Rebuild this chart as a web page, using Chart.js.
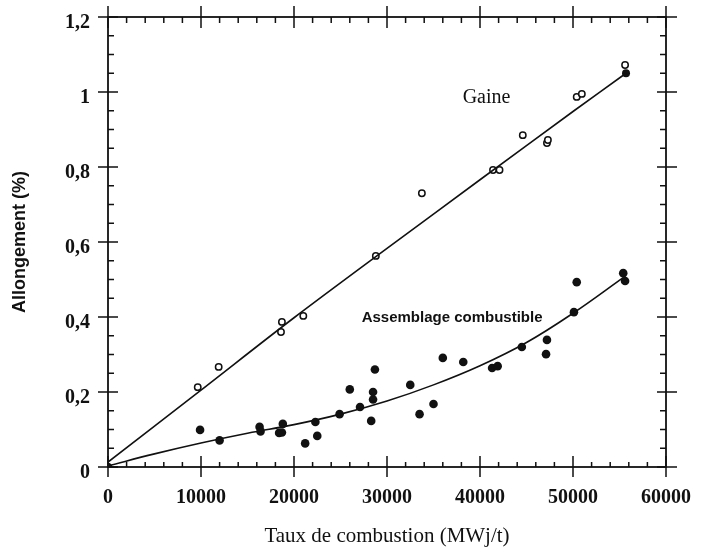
<!DOCTYPE html>
<html><head><meta charset="utf-8">
<script src="https://cdn.jsdelivr.net/npm/chart.js@4.4.1/dist/chart.umd.min.js"></script>
<style>html,body{margin:0;padding:0;background:#fff}</style>
</head><body>
<canvas id="c" width="701" height="548" style="width:701px;height:548px;display:block"></canvas>
<script>
// ---- data ----
const xTicks = [0, 10000, 20000, 30000, 40000, 50000, 60000];
const xTickLabels = ['0', '10000', '20000', '30000', '40000', '50000', '60000'];
const yTicks = [0, 0.2, 0.4, 0.6, 0.8, 1, 1.2];
const yTickLabels = ['0', '0,2', '0,4', '0,6', '0,8', '1', '1,2'];

// Gaine (open circles)
const gaineX = [9650, 11900, 18600, 18700, 21000, 28800, 33750, 41400, 42100, 44600, 47200, 47300, 50400, 50950, 55600];
const gaineY = [0.213, 0.267, 0.36, 0.387, 0.403, 0.563, 0.73, 0.792, 0.792, 0.885, 0.864, 0.872, 0.987, 0.995, 1.072];
// filled point at end of the Gaine line
const gaineFilledX = [55700];
const gaineFilledY = [1.05];
// Gaine fitted line
const gaineFitX = [0, 10000, 20000, 30000, 40000, 50000, 55700];
const gaineFitY = [0.013, 0.205, 0.398, 0.583, 0.766, 0.948, 1.05];

// Assemblage combustible (filled circles)
const assX = [0, 9900, 12000, 16300, 16400, 18400, 18700, 18800, 21200, 22300, 22500, 24900, 26000, 27100, 28300, 28500, 28500, 28700,
  32500, 33500, 35000, 36000, 38200, 41300, 41900, 44500, 47100, 47200, 50100, 50400, 55400, 55600];
const assY = [0, 0.099, 0.071, 0.107, 0.095, 0.091, 0.092, 0.115, 0.063, 0.12, 0.083, 0.141, 0.207, 0.16, 0.123, 0.18, 0.2, 0.26,
  0.219, 0.141, 0.168, 0.291, 0.28, 0.264, 0.269, 0.32, 0.301, 0.339, 0.413, 0.493, 0.517, 0.496];
// Assemblage fitted curve
const assFitX = [0, 5000, 10000, 15000, 20000, 25000, 30000, 35000, 40000, 45000, 50000, 55400];
const assFitY = [0.003, 0.035, 0.064, 0.09, 0.113, 0.141, 0.176, 0.219, 0.27, 0.332, 0.41, 0.505];

// annotation labels
const labelTexts = ['Gaine', 'Assemblage combustible'];
const labelX = [40700, 37000];
const labelY = [0.984, 0.397];

const zip = (xs, ys) => xs.map((x, i) => ({ x: x, y: ys[i] }));
const INK = '#111';

const framePlugin = {
  id: 'frame',
  afterDatasetsDraw(chart) {
    const { ctx, chartArea: a, scales: { x, y } } = chart;
    ctx.save();
    ctx.strokeStyle = INK;
    ctx.lineWidth = 1.8;
    ctx.strokeRect(a.left, a.top, a.right - a.left, a.bottom - a.top);
    ctx.lineWidth = 1.5;
    ctx.beginPath();
    // minor x ticks every 2000
    for (let v = x.min; v <= x.max + 1; v += 2000) {
      const px = x.getPixelForValue(v);
      ctx.moveTo(px, a.bottom); ctx.lineTo(px, a.bottom - 5);
      ctx.moveTo(px, a.top); ctx.lineTo(px, a.top + 6);
    }
    // minor y ticks every 0.05
    for (let k = 0; k <= 24; k++) {
      const py = y.getPixelForValue(k * 0.05);
      ctx.moveTo(a.left, py); ctx.lineTo(a.left + 6, py);
      ctx.moveTo(a.right, py); ctx.lineTo(a.right - 6, py);
    }
    // major ticks
    xTicks.forEach(v => {
      const px = x.getPixelForValue(v);
      ctx.moveTo(px, a.bottom + 10); ctx.lineTo(px, a.bottom - 11);
      ctx.moveTo(px, a.top - 11); ctx.lineTo(px, a.top + 11);
    });
    yTicks.forEach(v => {
      const py = y.getPixelForValue(v);
      ctx.moveTo(a.left - 10, py); ctx.lineTo(a.left + 10, py);
      ctx.moveTo(a.right - 9, py); ctx.lineTo(a.right + 11, py);
    });
    ctx.stroke();
    // annotation texts
    ctx.fillStyle = INK;
    ctx.textAlign = 'center';
    ctx.textBaseline = 'middle';
    ctx.font = '20px "Liberation Serif", "Times New Roman", serif';
    ctx.fillText(labelTexts[0], x.getPixelForValue(labelX[0]), y.getPixelForValue(labelY[0]));
    ctx.font = 'bold 15px "Liberation Sans", Arial, sans-serif';
    ctx.fillText(labelTexts[1], x.getPixelForValue(labelX[1]), y.getPixelForValue(labelY[1]));
    ctx.restore();
  }
};

new Chart(document.getElementById('c'), {
  type: 'scatter',
  data: {
    datasets: [
      { label: 'Gaine (ajustement)', data: zip(gaineFitX, gaineFitY), showLine: true, borderColor: INK, borderWidth: 1.6, pointRadius: 0, tension: 0.3, fill: false },
      { label: 'Assemblage (ajustement)', data: zip(assFitX, assFitY), showLine: true, borderColor: INK, borderWidth: 1.6, pointRadius: 0, tension: 0.4, fill: false },
      { label: 'Gaine', data: zip(gaineX, gaineY), pointRadius: 3.2, pointBorderWidth: 1.5, pointBorderColor: INK, pointBackgroundColor: '#fff', showLine: false },
      { label: 'Gaine (plein)', data: zip(gaineFilledX, gaineFilledY), pointRadius: 4, pointBorderWidth: 0, pointBackgroundColor: INK, showLine: false },
      { label: 'Assemblage combustible', data: zip(assX, assY), pointRadius: 4.3, pointBorderWidth: 0, pointBackgroundColor: INK, showLine: false }
    ]
  },
  options: {
    responsive: false,
    animation: false,
    devicePixelRatio: 1,
    layout: { padding: { left: 0, right: 35, top: 17, bottom: 0 } },
    plugins: { legend: { display: false }, tooltip: { enabled: false } },
    scales: {
      x: {
        type: 'linear', min: 0, max: 60000,
        afterBuildTicks: s => { s.ticks = xTicks.map(v => ({ value: v })); },
        afterFit: s => { s.height = 81; s.paddingLeft = 0; s.paddingRight = 0; },
        grid: { display: false, drawTicks: false },
        border: { display: false },
        ticks: {
          padding: 19, color: INK, maxRotation: 0, autoSkip: false,
          font: { family: '"Liberation Serif", "Times New Roman", serif', size: 20, weight: 'bold' },
          callback: (v, i) => xTickLabels[i]
        },
        title: {
          display: true, text: 'Taux de combustion (MWj/t)', color: INK,
          font: { family: '"Liberation Serif", "Times New Roman", serif', size: 21, lineHeight: 1 },
          padding: { top: 0, bottom: 1 }
        }
      },
      y: {
        type: 'linear', min: 0, max: 1.2,
        afterBuildTicks: s => { s.ticks = yTicks.map(v => ({ value: v })); },
        afterFit: s => { s.width = 108; s.paddingTop = 0; s.paddingBottom = 0; },
        grid: { display: false, drawTicks: false },
        border: { display: false },
        ticks: {
          padding: 18, labelOffset: 6, color: INK, autoSkip: false,
          font: { family: '"Liberation Serif", "Times New Roman", serif', size: 20, weight: 'bold' },
          callback: (v, i) => yTickLabels[i]
        },
        title: {
          display: true, text: 'Allongement (%)', color: INK,
          font: { family: '"Liberation Sans", Arial, sans-serif', size: 18, weight: 'bold', lineHeight: 1.2 },
          padding: { top: 9, bottom: 0 }
        }
      }
    }
  },
  plugins: [framePlugin]
});
</script>
</body></html>
